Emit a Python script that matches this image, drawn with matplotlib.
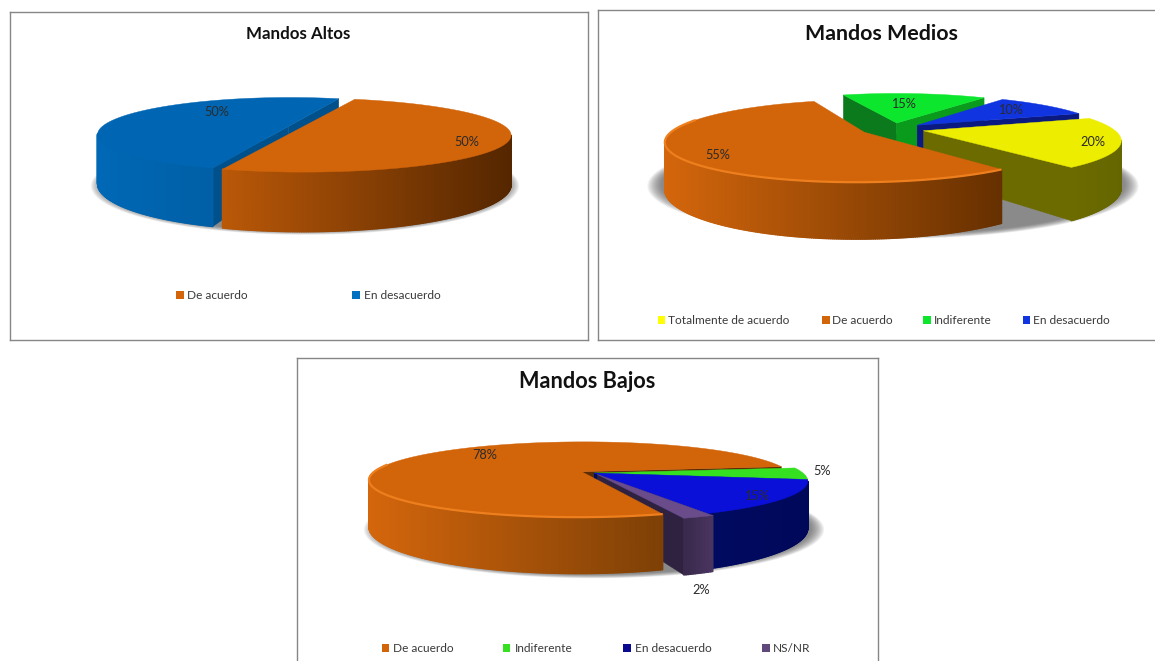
import numpy as np
import matplotlib
matplotlib.use("Agg")
import matplotlib.pyplot as plt
from matplotlib.colors import to_rgb
from matplotlib.patches import Polygon, Rectangle
from matplotlib.collections import PolyCollection

plt.rcParams['font.family'] = ['Lato', 'DejaVu Sans']
W, H_FIG = 1155, 661
TXT = '#2b2b2b'

# ---------- data ----------
alto_labels = ['De acuerdo', 'En desacuerdo']
alto_values = [50, 50]
medio_labels = ['Totalmente de acuerdo', 'De acuerdo', 'Indiferente', 'En desacuerdo']
medio_values = [20, 55, 15, 10]
bajo_labels = ['De acuerdo', 'Indiferente', 'En desacuerdo', 'NS/NR']
bajo_values = [78, 5, 15, 2]


# ---------- styles ----------
def orange(lo, hi):
    return dict(top='#D2640A', lo=lo, hi=hi, fs='#7a3a06', fe='#5e2c04', key='#D2640A', bevel=True)


panels = [
    dict(title='Mandos Altos', tsize=12.2, ty=34, tx=298.5, rect=(10, 12, 587.5, 339.5),
         labels=alto_labels, values=alto_values,
         cx=297, cy=127, R=204, t=.173, p=.21, H=47, start=71.6,
         explode=[.025, .045], uscale=[1, .915], zf=[3, 1], zb=[4, 2],
         shadow=(1.0, 1.0, 8), use_bevel=False,
         styles=[orange('#BA5808', '#542600'),
                 dict(top='#0066B3', lo='#0068B6', hi='#005FA6', fs='#00508C', fe='#00508C', key='#0070C0')],
         pct=[(467, 142), (217, 112)],
         leg_y=295, leg_sq=[176, 352], leg_tx=[187, 364]),
    dict(title='Mandos Medios', tsize=15.4, ty=34, tx=881.5, rect=(598, 9.5, 1158, 339.5),
         labels=medio_labels, values=medio_values,
         cx=893, cy=129, R=190, t=.2, p=.21, H=44, start=20,
         explode=[.165, .17, .165, .165], uscale=[1, 1, 1, 1], zf=[5, 7, 1, 3], zb=[6, 8, 2, 4],
         shadow=(1.23, 1.03, 0), use_bevel=True,
         styles=[dict(top='#EDED00', lo='#6B6B00', hi='#666600', fs='#6B6B00', fe='#6B6B00', key='#FFFF00'),
                 orange('#D4660C', '#663000'),
                 dict(top='#0CE62C', lo='#0A9A1C', hi='#0A9A1C', fs='#0A7A1C', fe='#0A9A1C', key='#0CE62C'),
                 dict(top='#1034E0', lo='#0A1A80', hi='#0A1A80', fs='#0A1A80', fe='#0A1A80', key='#1034E0')],
         pct=[(1093, 142), (718, 155), (903.5, 104), (1010, 110)],
         leg_y=320, leg_sq=[657.5, 822, 923, 1022.5], leg_tx=[668, 832, 933.5, 1033]),
    dict(title='Mandos Bajos', tsize=15.6, ty=382, tx=587, rect=(297, 358, 877.5, 664),
         labels=bajo_labels, values=bajo_values,
         cx=594, cy=473, R=209, t=.175, p=.21, H=45, start=-71,
         explode=[.07, 0, 0, .04], uscale=[1, 1, 1, 1], zf=[1, 2, 4, 6], zb=[9, 3, 5, 7],
         shadow=(1.05, .98, 0), use_bevel=True,
         styles=[orange('#D4660C', '#7E4006'),
                 dict(top='#35E020', lo='#1E8A12', hi='#1E8A12', fs='#1E8A12', fe='#1E8A12', key='#35E020'),
                 dict(top='#0A10D8', lo='#000A60', hi='#00085A', fs='#000A60', fe='#000A60', key='#0A0A90'),
                 dict(top='#6A4C8A', lo='#3A2A4C', hi='#4A3560', fs='#3A2A4C', fe='#2E2240', key='#60497A')],
         pct=[(485, 455), (822, 471), (756.5, 496), (701, 590)],
         leg_y=648, leg_sq=[382, 503, 623, 762], leg_tx=[393, 515, 635, 773]),
]


def draw_panel(fig, P):
    x0, y0, x1, y1 = P['rect']
    ax = fig.add_axes([x0 / W, 1 - y1 / H_FIG, (x1 - x0) / W, (y1 - y0) / H_FIG])
    ax.set_xlim(x0, x1)
    ax.set_ylim(y1, y0)
    ax.set_xticks([])
    ax.set_yticks([])
    for s in ax.spines.values():
        s.set_color('#868686')
        s.set_linewidth(1.0)

    cx, cy, R, t, p, H = P['cx'], P['cy'], P['R'], P['t'], P['p'], P['H']

    def proj(u, v, z=0.0):
        w = 1 + p * v
        return cx + R * u / w, cy + (-R * t * v + H * z) / w

    # soft drop shadow
    ang = np.radians(np.linspace(0, 360, 181))
    su, sv, sdx = P['shadow']
    for k in np.linspace(1.0, 0.0, 14):
        g = 1.025 * k + .97 * (1 - k)
        X, Y = proj(su * g * np.cos(ang), sv * g * np.sin(ang), 1.03)
        ax.add_patch(Polygon(np.c_[X + sdx, Y], closed=True, fc='#555555', ec='none',
                             alpha=.075, zorder=.5))

    vals = np.array(P['values'], float)
    spans = vals / vals.sum() * 360
    cam = np.array([0, -1 / p])
    th = P['start']
    for i, span in enumerate(spans):
        st = P['styles'][i]
        a1, a2 = th, th - span
        th = a2
        mid = np.radians((a1 + a2) / 2)
        ou, ov = P['explode'][i] * np.cos(mid), P['explode'][i] * np.sin(mid)
        tt = np.radians(np.linspace(a1, a2, max(int(span * 2), 8)))
        us = P['uscale'][i]
        ru, rv = ou + us * np.cos(tt), ov + np.sin(tt)

        # radial cut faces, only where they look at the viewer
        for a, col, sign in ((np.radians(a1), st['fs'], 1), (np.radians(a2), st['fe'], -1)):
            n = sign * np.array([-np.sin(a), np.cos(a)])
            if n @ (cam - np.array([ou, ov])) > 0:
                eu, ev = ou + us * np.cos(a), ov + np.sin(a)
                pts = [proj(ou, ov), proj(eu, ev), proj(eu, ev, 1), proj(ou, ov, 1)]
                ax.add_patch(Polygon(pts, closed=True, fc=col, ec=col, lw=.3, zorder=P['zf'][i]))

        # outer rim with a left-to-right shade
        lo, hi = np.array(to_rgb(st['lo'])), np.array(to_rgb(st['hi']))
        quads, mids = [], []
        for j in range(len(tt) - 1):
            mu, mv = (ru[j] + ru[j + 1]) / 2, (rv[j] + rv[j + 1]) / 2
            ma = (tt[j] + tt[j + 1]) / 2
            if np.array([np.cos(ma), np.sin(ma)]) @ (cam - np.array([mu, mv])) <= 0:
                continue
            quads.append([proj(ru[j], rv[j]), proj(ru[j + 1], rv[j + 1]),
                          proj(ru[j + 1], rv[j + 1], 1), proj(ru[j], rv[j], 1)])
            mids.append(np.mean([q[0] for q in quads[-1]]))
        if quads:
            mids = np.array(mids)
            f = (mids - mids.min()) / max(mids.max() - mids.min(), 1)
            cols = [lo * (1 - a) + hi * a for a in f]
            ax.add_collection(PolyCollection(quads, facecolors=cols, edgecolors=cols,
                                             linewidths=1.0, zorder=P['zb'][i]))
        # top surface
        X, Y = proj(ru, rv)
        ax.add_patch(Polygon(np.r_[[proj(ou, ov)], np.c_[X, Y]], closed=True, fc=st['top'],
                             ec=st['top'], lw=.3, zorder=P['zb'][i]))
        if P['use_bevel'] and st.get('bevel'):
            m = (rv < .25) & (ru < .6)
            ax.plot(np.where(m, X, np.nan), np.where(m, Y, np.nan), color='#EE7F1E', lw=1.6,
                    zorder=P['zb'][i], solid_capstyle='butt')

    # percentage labels
    for v, (lx, ly) in zip(P['values'], P['pct']):
        ax.text(lx, ly, f'{v}%', ha='center', va='center', fontsize=9.2, color=TXT, zorder=20)

    # title
    ax.text(P['tx'], P['ty'], P['title'], ha='center', va='center', fontsize=P['tsize'],
            fontweight='bold', color='#111111', zorder=20)

    # legend
    for lab, st, sx, tx in zip(P['labels'], P['styles'], P['leg_sq'], P['leg_tx']):
        ax.add_patch(Rectangle((sx, P['leg_y'] - 3.8), 7.5, 7.5, fc=st['key'], ec='none', zorder=20))
        ax.text(tx, P['leg_y'] + .5, lab, ha='left', va='center', fontsize=8.6, color='#3a3a3a', zorder=20)


fig = plt.figure(figsize=(W / 100, H_FIG / 100), dpi=100, facecolor='white')
for P in panels:
    draw_panel(fig, P)
fig.savefig('out.png', dpi=100, facecolor='white')
